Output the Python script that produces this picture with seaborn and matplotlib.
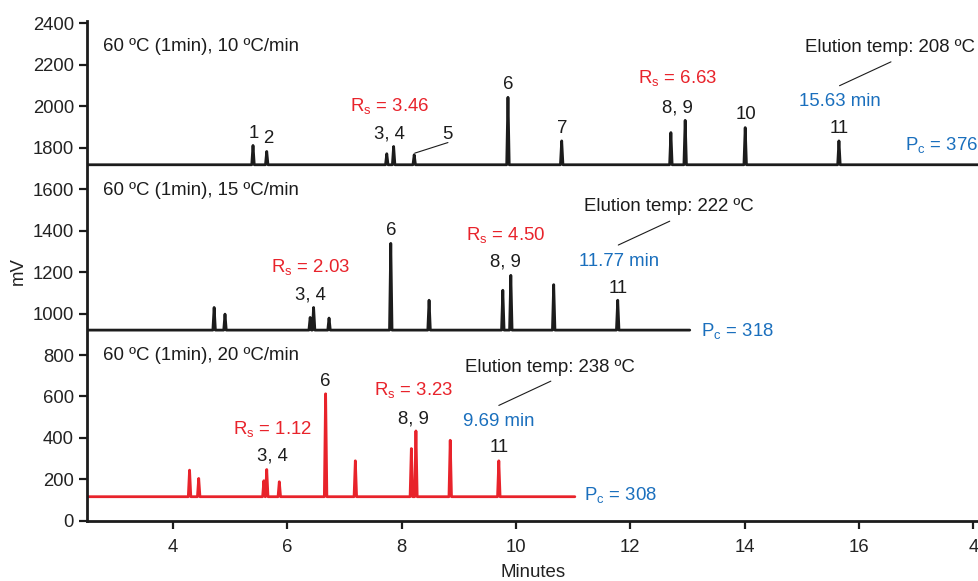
import matplotlib
import numpy as np
import pandas as pd
import seaborn as sns
from matplotlib import pyplot as plt

sns.set_style("ticks")
plt.rcParams['font.family'] = ['Liberation Sans', 'DejaVu Sans']
plt.rcParams['mathtext.fontset'] = 'custom'
plt.rcParams['mathtext.rm'] = 'Liberation Sans'

BLACK = "#1c1c1c"
RED = "#e8232b"
BLUE = "#1a6fbd"

# retention times (min) and peak tops (mV)
rt_10 = [5.40, 5.64, 7.74, 7.86, 8.22, 9.86, 10.80, 12.71, 12.96, 14.01, 15.65]
mv_10 = [1810, 1781, 1770, 1805, 1765, 2042, 1832, 1872, 1931, 1896, 1832]
base_10 = 1717
end_10 = 18.1

rt_15 = [4.72, 4.91, 6.40, 6.46, 6.73, 7.81, 8.48, 9.77, 9.91, 10.66, 11.78]
mv_15 = [1029, 997, 981, 1029, 978, 1338, 1064, 1112, 1184, 1139, 1064]
base_15 = 920
end_15 = 13.04

rt_20 = [4.29, 4.45, 5.59, 5.64, 5.86, 6.67, 7.19, 8.17, 8.25, 8.85, 9.70]
mv_20 = [245, 205, 194, 248, 189, 613, 290, 349, 434, 389, 290]
base_20 = 117
end_20 = 11.03

x_start = 2.5
xtick_pos = [4, 6, 8, 10, 12, 14, 16, 18]
xtick_labels = ["4", "6", "8", "10", "12", "14", "16", "4"]
ytick_pos = list(range(0, 2401, 200))

traces = {
    "10": (rt_10, mv_10, base_10, end_10),
    "15": (rt_15, mv_15, base_15, end_15),
    "20": (rt_20, mv_20, base_20, end_20),
}
palette = {"10": BLACK, "15": BLACK, "20": RED}

HALF_W = 0.022


def trace_frame(name, rts, mvs, base, end):
    xs, ys = [x_start], [base]
    for t, h in zip(rts, mvs):
        xs += [t - HALF_W, t, t + HALF_W]
        ys += [base, h, base]
    xs.append(end)
    ys.append(base)
    return pd.DataFrame({"minutes": xs, "mv": ys, "rate": name})


df = pd.concat([trace_frame(k, *v) for k, v in traces.items()], ignore_index=True)

fig = plt.figure(figsize=(9.79, 5.81), dpi=100)
ax = fig.add_axes([0.0891, 0.1033, 0.9109, 0.8606])

sns.lineplot(data=df, x="minutes", y="mv", hue="rate", palette=palette,
             sort=False, estimator=None, legend=False, linewidth=2.0, ax=ax)

ax.set_xlim(x_start, 18.1)
ax.set_ylim(0, 2410)
ax.set_xticks(xtick_pos)
ax.set_xticklabels(xtick_labels)
ax.set_yticks(ytick_pos)
ax.tick_params(axis="both", labelsize=13.3, width=1.6, length=6, color=BLACK,
               labelcolor="#222222", direction="out")
ax.tick_params(axis="x", pad=7)
for side in ["left", "bottom"]:
    ax.spines[side].set_linewidth(2)
    ax.spines[side].set_color(BLACK)
sns.despine(ax=ax)
ax.set_xlabel("Minutes", fontsize=13.4, color="#222222", labelpad=6)
ax.set_ylabel("mV", fontsize=13.4, color="#222222", labelpad=4)

FS = 13.4


def txt(x, y, s, color=BLACK, ha="center"):
    ax.text(x, y, s, color=color, fontsize=FS, ha=ha, va="center")


def leader(x0, y0, x1, y1):
    ax.plot([x0, x1], [y0, y1], color=BLACK, linewidth=0.8)


# 10 C/min
txt(2.78, 2285, "60 ºC (1min), 10 ºC/min", ha="left")
txt(5.42, 1869, "1")
txt(5.66, 1845, "2")
txt(7.79, 1997, r"R$_{\mathrm{s}}$ = 3.46", RED)
txt(7.79, 1864, "3, 4")
txt(8.80, 1864, "5")
leader(8.23, 1773, 8.81, 1824)
txt(9.86, 2104, "6")
txt(10.80, 1893, "7")
txt(12.83, 2131, r"R$_{\mathrm{s}}$ = 6.63", RED)
txt(12.83, 1992, "8, 9")
txt(14.02, 1957, "10")
txt(15.66, 1893, "11")
txt(16.54, 2282, "Elution temp: 208 ºC")
leader(16.56, 2213, 15.66, 2098)
txt(15.67, 2021, "15.63 min", BLUE)
txt(16.81, 1810, r"P$_{\mathrm{c}}$ = 376", BLUE, ha="left")

# 15 C/min
txt(2.78, 1592, "60 ºC (1min), 15 ºC/min", ha="left")
txt(7.81, 1400, "6")
txt(6.41, 1218, r"R$_{\mathrm{s}}$ = 2.03", RED)
txt(6.40, 1088, "3, 4")
txt(9.83, 1376, r"R$_{\mathrm{s}}$ = 4.50", RED)
txt(9.82, 1248, "8, 9")
txt(11.79, 1122, "11")
txt(12.67, 1514, "Elution temp: 222 ºC")
leader(12.69, 1445, 11.79, 1330)
txt(11.80, 1253, "11.77 min", BLUE)
txt(13.23, 912, r"P$_{\mathrm{c}}$ = 318", BLUE, ha="left")

# 20 C/min
txt(2.78, 797, "60 ºC (1min), 20 ºC/min", ha="left")
txt(6.67, 672, "6")
txt(5.75, 437, r"R$_{\mathrm{s}}$ = 1.12", RED)
txt(5.74, 312, "3, 4")
txt(8.21, 625, r"R$_{\mathrm{s}}$ = 3.23", RED)
txt(8.20, 490, "8, 9")
txt(9.70, 354, "11")
txt(10.59, 741, "Elution temp: 238 ºC")
leader(10.61, 674, 9.70, 557)
txt(9.70, 480, "9.69 min", BLUE)
txt(11.19, 120, r"P$_{\mathrm{c}}$ = 308", BLUE, ha="left")

plt.savefig("out.png", dpi=100)
